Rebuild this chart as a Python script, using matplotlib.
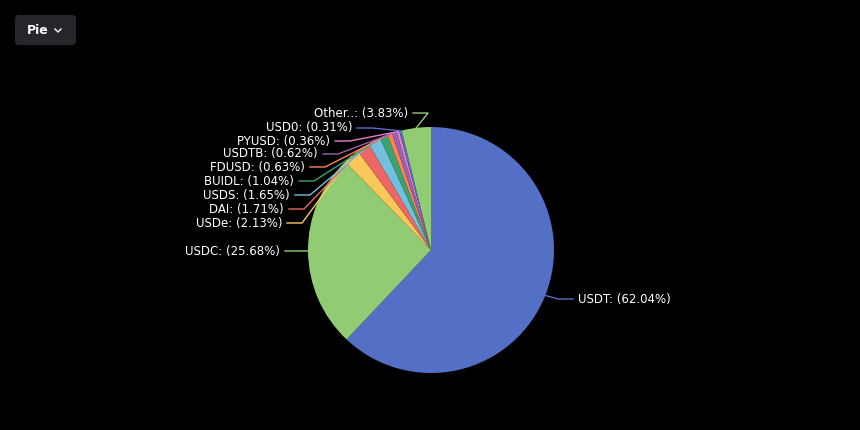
import numpy as np
import matplotlib.pyplot as plt
from matplotlib.patches import FancyBboxPatch

labels = ['USDT', 'USDC', 'USDe', 'DAI', 'USDS', 'BUIDL', 'FDUSD', 'USDTB', 'PYUSD', 'USD0', 'Other..']
shares = [62.04, 25.68, 2.13, 1.71, 1.65, 1.04, 0.63, 0.62, 0.36, 0.31, 3.83]
colors = ['#5470c6', '#91cc75', '#fac858', '#ee6666', '#73c0de', '#3ba272',
          '#fc8452', '#9a60b4', '#ea7ccc', '#5470c6', '#91cc75']

# label anchor (x, y) in pixels; side 'r' means text starts at x, 'l' ends at x
label_pos = [(578, 299, 'r'), (280, 251, 'l'), (282, 223, 'l'), (284, 209, 'l'),
             (290, 195, 'l'), (294, 181, 'l'), (305, 167, 'l'), (318, 154, 'l'),
             (330, 141, 'l'), (352, 128, 'l'), (408, 113, 'l')]

cx, cy, R = 431, 250, 123

fig = plt.figure(figsize=(8.6, 4.3), dpi=100, facecolor='black')
ax = fig.add_axes([0, 0, 1, 1])
ax.set_facecolor('black')
ax.set_xlim(0, 860)
ax.set_ylim(430, 0)
ax.axis('off')

# ylim inverted -> angles flip; counterclock=True gives clockwise on screen
wedges, _ = ax.pie(shares, colors=colors, startangle=-90, counterclock=True,
                   center=(cx, cy), radius=R, frame=True,
                   wedgeprops=dict(linewidth=0))
ax.set_xlim(0, 860)
ax.set_ylim(430, 0)
ax.axis('off')

start = 0.0
for lab, val, col, (lx, ly, side) in zip(labels, shares, colors, label_pos):
    mid = start + val / 2
    start += val
    ang = np.deg2rad(90 - mid * 3.6)  # screen angle, clockwise from top
    ex = cx + R * np.cos(ang)
    ey = cy - R * np.sin(ang)
    if side == 'r':
        ax.plot([ex, lx - 20, lx - 5], [ey, ly, ly], color=col, lw=1)
        ax.text(lx, ly, f'{lab}: ({val:.2f}%)', color='white', fontsize=8.5,
                ha='left', va='center')
    else:
        ax.plot([ex, lx + 20, lx + 5], [ey, ly, ly], color=col, lw=1)
        ax.text(lx, ly, f'{lab}: ({val:.2f}%)', color='white', fontsize=8.5,
                ha='right', va='center')

# "Pie" dropdown button
btn = FancyBboxPatch((15, 15), 61, 30, boxstyle='round,pad=0,rounding_size=4',
                     facecolor='#25272c', edgecolor='none')
ax.add_patch(btn)
ax.text(27, 30.5, 'Pie', color='white', fontsize=9, fontweight='bold', va='center')
ax.plot([55, 58, 61], [29, 32, 29], color='white', lw=1)

fig.savefig('out.png', dpi=100, facecolor='black')
